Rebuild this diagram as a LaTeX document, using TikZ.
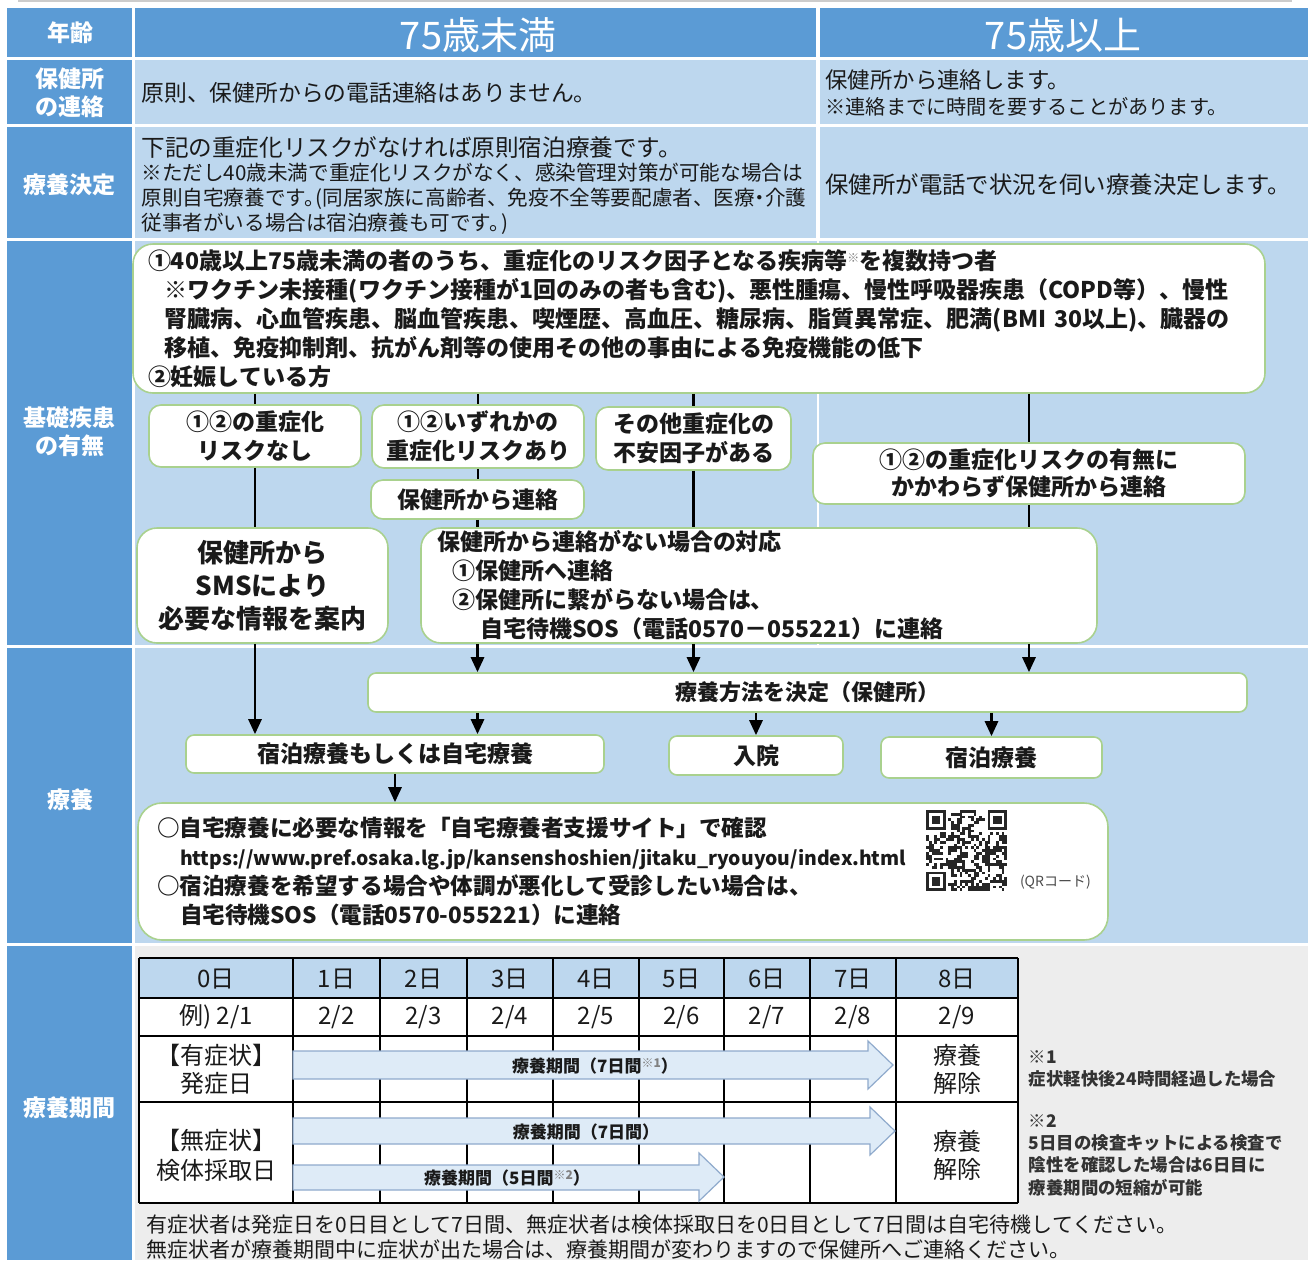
\documentclass[tikz,border=0pt]{standalone}
\usepackage{fontspec}
\setmainfont{Noto Sans CJK JP}
\usepackage{xcolor}
\usepackage{tikz}
\usetikzlibrary{positioning,arrows.meta}

\definecolor{headblue}{HTML}{5B9BD5}
\definecolor{paleblue}{HTML}{BDD7EE}
\definecolor{boxgreen}{HTML}{A9D18E}
\definecolor{panelgray}{HTML}{EDEDED}
\definecolor{barfill}{HTML}{DEEBF7}
\definecolor{baredge}{HTML}{8FAACC}
\definecolor{ink}{HTML}{1A1A1A}

\newcommand{\setfs}[2]{\fontsize{#1}{#2}\selectfont}
\newcommand{\kome}[1]{\raisebox{0.3em}{\textcolor{gray}{\setfs{6}{6}※#1}}}

\begin{document}
\begin{tikzpicture}[
  x=0.5pt, y=-0.5pt,
  every node/.style={text=ink},
  rowlabel/.style={font=\bfseries\setfs{11.5}{14}, text=white, align=center},
  agehead/.style={font=\setfs{19}{22}, text=white},
  linetext/.style={anchor=west, align=left, inner sep=0pt},
  flowbox/.style={draw=boxgreen, fill=white, line width=0.8pt, rounded corners=6pt, align=center, inner sep=0pt, font=\bfseries\setfs{11.5}{14.5}},
  flow/.style={line width=1.4pt},
  flowarrow/.style={flow, -{Triangle[width=6.5pt,length=7.5pt]}},
  cell/.style={font=\setfs{12}{14}, align=center},
  tableline/.style={line width=1pt, black},
  barshape/.style={fill=barfill, draw=baredge, line width=0.6pt},
  bartext/.style={font=\bfseries\setfs{8.5}{10}},
  note/.style={align=left, inner sep=0pt, text=black!80, font=\bfseries\setfs{8.7}{11.2}}
]
\useasboundingbox (0,0) rectangle (1308,1260);

% Backgrounds
\draw[gray!40, line width=1.2pt] (18,1) -- (1292,1);
\foreach \ya/\yb in {8/57,60/124,127/238,241/645,648/943,946/1260}
  \fill[headblue] (7,\ya) rectangle (132,\yb);
\fill[headblue] (135,8) rectangle (816,57);
\fill[headblue] (820,8) rectangle (1308,57);
\fill[paleblue] (135,60) rectangle (816,124);
\fill[paleblue] (820,60) rectangle (1308,124);
\fill[paleblue] (135,127) rectangle (816,238);
\fill[paleblue] (820,127) rectangle (1308,238);
\fill[paleblue] (135,241) rectangle (1308,645);
\draw[white, line width=0.8pt] (818,241) -- (818,645);
\fill[paleblue] (135,648) rectangle (1308,943);
\fill[panelgray] (135,946) rectangle (1308,1260);

% Row labels
\node[rowlabel] (lblage) at (70,33) {年齢};
\node[rowlabel] (lblcall) at (70,93) {保健所\\の連絡};
\node[rowlabel] (lbldecide) at (70,185) {療養決定};
\node[rowlabel] (lblrisk) at (70,432) {基礎疾患\\の有無};
\node[rowlabel] (lblcare) at (70,800) {療養};
\node[rowlabel] (lblperiod) at (70,1108) {療養期間};

% Age columns
\node[agehead] (under75) at (478,35) {75歳未満};
\node[agehead] (over75) at (1063,35) {75歳以上};

% Contact and decision rows
\node[linetext, font=\setfs{11.4}{14}] (callunder) at (141,93) {原則、保健所からの電話連絡はありません。};
\node[linetext, font=\setfs{11.2}{14}] (callover) at (825,80) {保健所から連絡します。};
\node[linetext, font=\setfs{10.1}{12}] (callwait) at (825,107) {※連絡までに時間を要することがあります。};
\node[linetext, font=\setfs{11.8}{14}] (decideunder) at (141,147) {下記の重症化リスクがなければ原則宿泊療養です。};
\node[linetext, font=\setfs{10.3}{12.5}] (decidenote) at (141,199) {※ただし40歳未満で重症化リスクがなく、感染管理対策が可能な場合は\\原則自宅療養です。\hspace{-0.45em}(同居家族に高齢者、免疫不全等要配慮者、医療\hspace{-0.25em}・\hspace{-0.25em}介護\\従事者がいる場合は宿泊療養も可です。\hspace{-0.4em})};
\node[linetext, font=\setfs{11.7}{14}] (decideover) at (825,185) {保健所が電話で状況を伺い療養決定します。};

% Risk factors
\node[flowbox, rounded corners=10pt, minimum width=566pt, minimum height=74.5pt, text width=551pt, align=left] (riskbox) at (699,318.5) {①40歳以上75歳未満の者のうち、重症化のリスク因子となる疾病等\kome{}を複数持つ者\\\hspace*{8.5pt}※ワクチン未接種(ワクチン接種が1回のみの者も含む)、悪性腫瘍、慢性呼吸器疾患（COPD等）、慢性\\\hspace*{8.5pt}腎臓病、心血管疾患、脳血管疾患、喫煙歴、高血圧、糖尿病、脂質異常症、肥満(BMI~30以上)、臓器の\\\hspace*{8.5pt}移植、免疫抑制剤、抗がん剤等の使用その他の事由による免疫機能の低下\\②妊娠している方};

\node[flowbox, minimum width=106pt, minimum height=31pt] (norisk) at (255,436) {①②の重症化\\リスクなし};
\node[flowbox, minimum width=106pt, minimum height=31.5pt] (anyrisk) at (478,436.5) {①②いずれかの\\重症化リスクあり};
\node[flowbox, minimum width=97.5pt, minimum height=31.5pt] (otherrisk) at (693.5,438.5) {その他重症化の\\不安因子がある};
\node[flowbox, minimum width=216pt, minimum height=30.5pt, font=\bfseries\setfs{11.5}{13.5}] (allcontact) at (1029,473.5) {①②の重症化リスクの有無に\\かかわらず保健所から連絡};
\node[flowbox, minimum width=106.5pt, minimum height=19.5pt] (hccontact) at (477.5,499.5) {保健所から連絡};
\node[flowbox, rounded corners=10pt, minimum width=125.5pt, minimum height=57.5pt, font=\bfseries\setfs{13}{16.5}] (smsbox) at (262.5,585.5) {保健所から\\SMSにより\\必要な情報を案内};
\node[flowbox, rounded corners=10pt, minimum width=338pt, minimum height=57.5pt, text width=322pt, align=left] (nocall) at (759,585.5) {保健所から連絡がない場合の対応\\\hspace*{7.5pt}①保健所へ連絡\\\hspace*{7.5pt}②保健所に繋がらない場合は、\\\hspace*{21.5pt}自宅待機SOS（電話0570－055221）に連絡};

% Care
\node[flowbox, rounded corners=4pt, minimum width=439.5pt, minimum height=19.5pt, font=\bfseries\setfs{11}{13}] (decide) at (807.5,692.5) {療養方法を決定（保健所）};
\node[flowbox, rounded corners=4pt, minimum width=209pt, minimum height=19pt] (hotelhome) at (395,754) {宿泊療養もしくは自宅療養};
\node[flowbox, rounded corners=4pt, minimum width=87pt, minimum height=19.5pt] (hospital) at (756,755.5) {入院};
\node[flowbox, rounded corners=4pt, minimum width=110.5pt, minimum height=20.5pt] (hotel) at (991.5,757.5) {宿泊療養};
\node[flowbox, rounded corners=12pt, minimum width=485pt, minimum height=68.5pt, text width=466pt, align=left, font=\bfseries\setfs{11.3}{14.5}] (infobox) at (623,871.5) {○自宅療養に必要な情報を「自宅療養者支援サイト」で確認\\\hspace*{11.5pt}{\setfs{9.7}{12}https://www.pref.osaka.lg.jp/kansenshoshien/jitaku\_ryouyou/index.html}\\○宿泊療養を希望する場合や体調が悪化して受診したい場合は、\\\hspace*{11.5pt}自宅待機SOS（電話0570-055221）に連絡};

% QR code
\node[minimum size=40.6pt, inner sep=0pt, fill=white] (qrbox) at (966.6,850.6) {};
\pgfmathsetseed{17}
\foreach \i in {0,...,28}
  \foreach \j in {0,...,28}{
    \pgfmathtruncatemacro\qrbit{(rnd<0.5)}
    \ifnum\qrbit=1 \fill[black!85] ({926+2.8*\i},{810+2.8*\j}) rectangle ++(2.8,2.8); \fi
  }
\foreach \ci/\cj in {0/0,22/0,0/22}{
  \fill[white] ({926+2.8*\ci-2.8},{810+2.8*\cj-2.8}) rectangle ++(25.2,25.2);
  \fill[black!85] ({926+2.8*\ci},{810+2.8*\cj}) rectangle ++(19.6,19.6);
  \fill[white] ({928.8+2.8*\ci},{812.8+2.8*\cj}) rectangle ++(14,14);
  \fill[black!85] ({931.6+2.8*\ci},{815.6+2.8*\cj}) rectangle ++(8.4,8.4);
}
\node[font=\setfs{7}{8}, text=black!70, inner sep=1pt, above right=0pt and 5pt of qrbox.south east] (qrnote) {(QRコード)};

% Connectors
\draw[flow] (riskbox.south -| norisk) -- (norisk.north);
\draw[flow] (riskbox.south -| anyrisk) -- (anyrisk.north);
\draw[flow] (riskbox.south -| otherrisk) -- (otherrisk.north);
\draw[flow] (riskbox.south -| allcontact) -- (allcontact.north);
\draw[flow] (norisk.south) -- (smsbox.north -| norisk.south);
\draw[flow] (anyrisk.south) -- (hccontact.north -| anyrisk.south);
\draw[flow] (hccontact.south) -- (nocall.north -| hccontact.south);
\draw[flow] (otherrisk.south) -- (nocall.north -| otherrisk.south);
\draw[flow] (allcontact.south) -- (nocall.north -| allcontact.south);
\draw[flowarrow] (smsbox.south -| norisk) -- (hotelhome.north -| norisk);
\draw[flowarrow] (nocall.south -| hccontact) -- (decide.north -| hccontact);
\draw[flowarrow] (nocall.south -| otherrisk) -- (decide.north -| otherrisk);
\draw[flowarrow] (nocall.south -| allcontact) -- (decide.north -| allcontact);
\draw[flowarrow] (decide.south -| hccontact) -- (hotelhome.north -| hccontact);
\draw[flowarrow] (decide.south -| hospital) -- (hospital.north);
\draw[flowarrow] (decide.south -| hotel) -- (hotel.north);
\draw[flowarrow] (hotelhome.south) -- (infobox.north -| hotelhome.south);

% Schedule table
\fill[white] (139,998) rectangle (1018,1203);
\fill[paleblue] (139,958) rectangle (1018,998);
\foreach \yy in {958,998,1036,1102,1203}
  \draw[tableline] (139,\yy) -- (1018,\yy);
\foreach \xx in {139,293,380,467,553,639,724,810,896,1018}
  \draw[tableline] (\xx,958) -- (\xx,1203);
\foreach \cx [count=\k from 0] in {216,336.5,423.5,510,596,681.5,767,853,957}{
  \node[cell] (day\k) at (\cx,979) {\k 日};
  \pgfmathtruncatemacro\dd{\k+1}
  \node[cell] (date\k) at (\cx,1017) {\ifnum\k=0 例) \fi 2/\dd};
}
\node[cell] (sympt) at (216,1069) {【有症状】\\発症日};
\node[cell, font=\setfs{12}{15}] (asympt) at (216,1155) {【無症状】\\検体採取日};
\node[cell, minimum width=61pt] (release1) at (957,1069) {療養\\解除};
\node[cell, minimum width=61pt] (release2) at (957,1155) {療養\\解除};

% Period bars
\filldraw[barshape] (293,1051) -- (868,1051) -- (868,1041) -- (893,1065) -- (868,1089) -- (868,1079) -- (293,1079) -- cycle;
\node[bartext] (bar7s) at (595,1066) {療養期間（7日間\kome{1}）};
\filldraw[barshape] (293,1118) -- (870,1118) -- (870,1107) -- (895,1131) -- (870,1155) -- (870,1144) -- (293,1144) -- cycle;
\node[bartext] (bar7a) at (586,1132) {療養期間（7日間）};
\filldraw[barshape] (293,1165) -- (699,1165) -- (699,1153) -- (724,1177) -- (699,1201) -- (699,1190) -- (293,1190) -- cycle;
\node[bartext] (bar5a) at (507,1178) {療養期間（5日間\kome{2}）};

% Notes
\node[note, right=5pt of release1] (note1) {※1\\症状軽快後24時間経過した場合};
\node[note, right=5pt of release2] (note2) {※2\\5日目の検査キットによる検査で\\陰性を確認した場合は6日目に\\療養期間の短縮が可能};
\node[linetext, font=\setfs{10.5}{12.5}] (footer) at (146,1237.5) {有症状者は発症日を0日目として7日間、無症状者は検体採取日を0日目として7日間は自宅待機してください。\\無症状者が療養期間中に症状が出た場合は、療養期間が変わりますので保健所へご連絡ください。};

\end{tikzpicture}
\end{document}
